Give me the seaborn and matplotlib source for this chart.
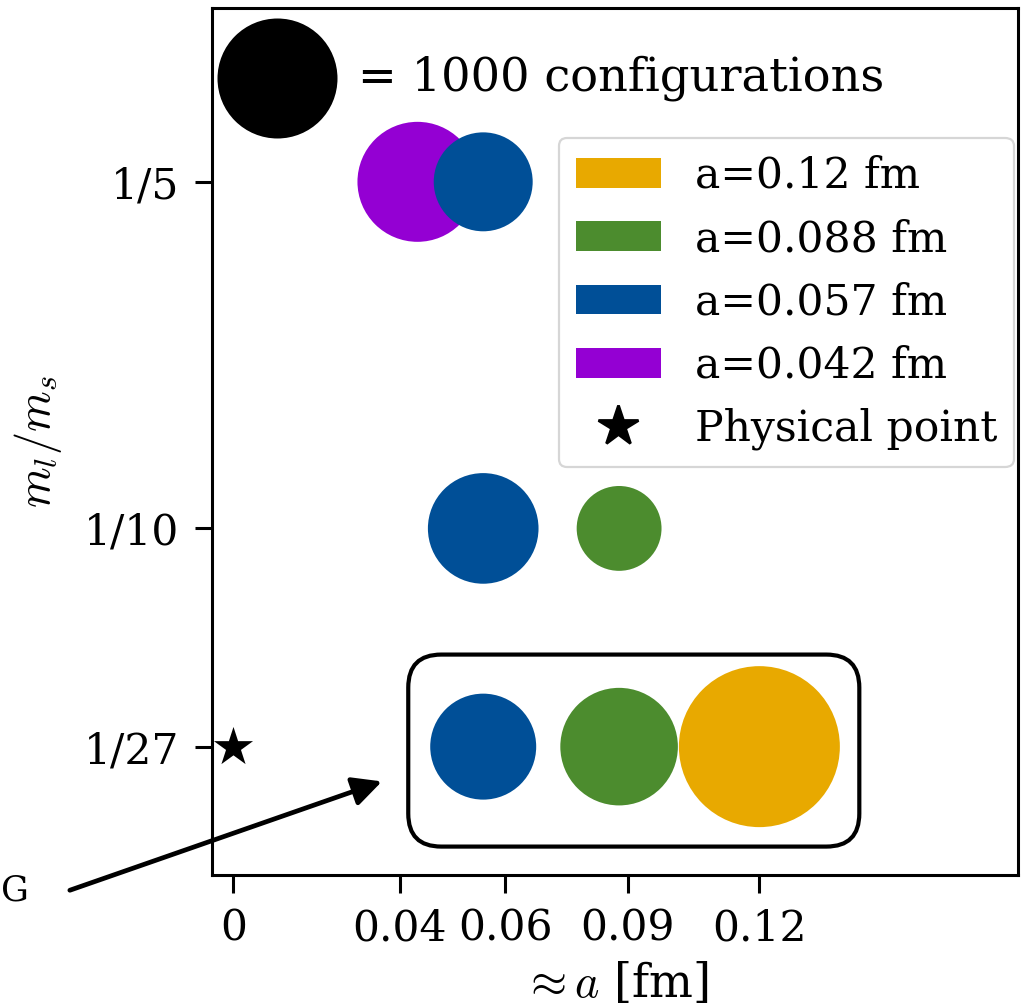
import numpy as np
import pandas as pd
import matplotlib
matplotlib.use("Agg")
import matplotlib.pyplot as plt
import seaborn as sns
from matplotlib.patches import Patch, FancyBboxPatch
from matplotlib.lines import Line2D

# ---------------- data ----------------
ens_labels = ["a=0.12 fm", "a=0.088 fm", "a=0.057 fm", "a=0.042 fm"]
ens_colors = ["#e8a900", "#4c8c2e", "#004f97", "#9400d3"]

pt_spacing = ["a=0.042 fm", "a=0.057 fm", "a=0.057 fm", "a=0.088 fm",
              "a=0.057 fm", "a=0.088 fm", "a=0.12 fm"]
pt_a = [0.042, 0.057, 0.057, 0.088, 0.057, 0.088, 0.12]
pt_ratio = [1/5, 1/5, 1/10, 1/10, 1/27, 1/27, 1/27]
pt_configs = [1000, 680, 850, 500, 780, 960, 1800]

ref_configs = 1000
ref_pos = (0.01, 0.23)
phys_pos = (0.0, 1/27)

xtick_pos = [0, 0.038, 0.062, 0.09, 0.12]
xtick_labels = ["0", "0.04", "0.06", "0.09", "0.12"]
ytick_pos = [1/5, 1/10, 1/27]
ytick_labels = ["1/5", "1/10", "1/27"]

# ---------------- style ----------------
sns.set_theme(style="ticks")
plt.rcParams["font.family"] = ["DejaVu Serif"]
plt.rcParams["mathtext.fontset"] = "cm"
for k in ["text.color", "axes.labelcolor", "xtick.color", "ytick.color", "axes.edgecolor"]:
    plt.rcParams[k] = "black"
FS = 15.3
FS_BIG = 16.7
DPI = 200
S_PER_CONF = 1.866  # pt^2 per configuration

fig = plt.figure(figsize=(1023 / DPI, 1007 / DPI), dpi=DPI)
ax = fig.add_axes([212 / 1023, 1 - 875 / 1007, (1018 - 212) / 1023, (875 - 7.5) / 1007])
ax.set_xlim(-0.00487, 0.179)
ax.set_ylim(0.0, 0.2503)

df = pd.DataFrame({"a": pt_a, "ratio": pt_ratio, "conf": pt_configs, "ens": pt_spacing})
palette = dict(zip(ens_labels, ens_colors))
sizes = {c: c * S_PER_CONF for c in df["conf"].unique()}
sns.scatterplot(data=df, x="a", y="ratio", hue="ens", size="conf", palette=palette,
                sizes=sizes, linewidth=0, alpha=1, legend=False, ax=ax, zorder=3)

# reference bubble
sns.scatterplot(x=[ref_pos[0]], y=[ref_pos[1]], s=ref_configs * S_PER_CONF, color="black",
                linewidth=0, ax=ax, legend=False, zorder=3)
ax.text(0.0285, ref_pos[1], f"= {ref_configs} configurations", fontsize=FS_BIG,
        va="center", ha="left", color="black")

# physical point
sns.scatterplot(x=[phys_pos[0]], y=[phys_pos[1]], marker="*", s=14.8 ** 2, color="black",
                linewidth=0, ax=ax, legend=False, zorder=4, clip_on=False)

# rounded box around 1/27 ensembles
fig.canvas.draw()
bb = ax.get_window_extent()
xl, yl = ax.get_xlim(), ax.get_ylim()
px_x = bb.width / (xl[1] - xl[0])
px_y = bb.height / (yl[1] - yl[0])
x0, x1 = 0.0399, 0.1428
y0, y1 = 0.0082, 0.0636
rnd = 33 / px_x
box = FancyBboxPatch((x0, y0), x1 - x0, y1 - y0,
                     boxstyle=f"round,pad=0,rounding_size={rnd}",
                     mutation_aspect=px_x / px_y, fc="none", ec="black", lw=1.5, zorder=2)
ax.add_patch(box)

# arrow from outside
ax.annotate("", xy=(0.0339, 0.0270), xytext=(-0.0373, -0.0044),
            arrowprops=dict(arrowstyle="-|>", color="black", lw=1.7, mutation_scale=22,
                            shrinkA=0, shrinkB=0),
            annotation_clip=False)
fig.text(1 / 1023, 1 - 890.5 / 1007, "G", fontsize=12.5, ha="left", va="center",
         color="black")

# axes formatting
ax.set_xticks(xtick_pos)
ax.set_xticklabels(xtick_labels)
ax.set_yticks(ytick_pos)
ax.set_yticklabels(ytick_labels)
ax.tick_params(axis="both", labelsize=FS, length=6.3, width=1.1, pad=5.5,
               color="black", labelcolor="black")
for sp in ax.spines.values():
    sp.set_linewidth(1.1)
    sp.set_color("black")
    sp.set_visible(True)
ax.set_xlabel(r"$\approx a$ [fm]", fontsize=FS_BIG, labelpad=4, color="black")
ax.set_ylabel(r"$m_l/m_s$", fontsize=FS_BIG, labelpad=7, color="black")

# legend
handles = [Patch(facecolor=c, edgecolor="none", label=l) for l, c in zip(ens_labels, ens_colors)]
handles.append(Line2D([], [], marker="*", color="black", linestyle="None",
                      markersize=14.8, label="Physical point"))
leg = ax.legend(handles=handles, loc="upper right", bbox_to_anchor=(0.995, 0.8496),
                borderaxespad=0, fontsize=FS, frameon=True, fancybox=True)
leg.get_frame().set_edgecolor("0.8")
leg.get_frame().set_linewidth(0.8)
for t in leg.get_texts():
    t.set_color("black")

fig.savefig("out.png", dpi=DPI)
